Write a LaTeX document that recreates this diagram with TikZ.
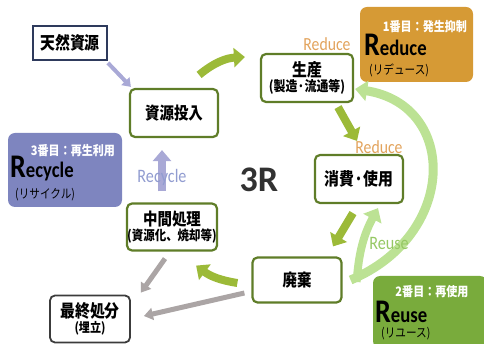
\documentclass[tikz,border=0pt]{standalone}
\usepackage{fontspec}
\setmainfont{Carlito}
\newfontfamily\jp[FakeStretch=0.85]{Noto Sans CJK JP}
\newfontfamily\cn[FakeStretch=0.85]{Carlito}
\usetikzlibrary{arrows.meta,calc}
\definecolor{gborder}{RGB}{95,125,40}
\definecolor{navy}{RGB}{46,58,92}
\definecolor{dgray}{RGB}{60,60,60}
\definecolor{garr}{RGB}{156,186,56}
\definecolor{lgarr}{RGB}{188,226,148}
\definecolor{lav}{RGB}{169,169,214}
\definecolor{grayarr}{RGB}{171,165,165}
\definecolor{redfill}{RGB}{214,154,53}
\definecolor{recfill}{RGB}{126,133,191}
\definecolor{reufill}{RGB}{121,171,60}
\definecolor{redtxt}{RGB}{226,163,92}
\definecolor{rectxt}{RGB}{145,156,208}
\definecolor{reutxt}{RGB}{150,200,100}
\newcommand\setfs[1]{\fontsize{#1}{#1}\selectfont}
\tikzset{
  gbox/.style={draw=gborder, line width=2.2pt, rounded corners=5pt, fill=white, align=center, inner sep=0pt},
  cbox/.style={rounded corners=7pt, inner sep=0pt},
  garrow/.style={draw=garr, line width=8pt, -{Triangle[length=11pt,width=19pt]}},
  lgarrow/.style={draw=lgarr, line width=8pt, -{Triangle[length=12pt,width=20pt]}},
  lavarrow/.style={draw=lav, line width=4pt, -{Triangle[length=8pt,width=11pt]}},
  grarrow/.style={draw=grayarr, line width=5pt, -{Triangle[length=9pt,width=12pt]}},
  wtitle/.style={text=white, font=\jp\bfseries\setfs{13}, inner sep=0pt},
  bigR/.style={anchor=base west, inner sep=0pt, text=black, font=\cn\bfseries},
  kana/.style={anchor=west, inner sep=0pt, font=\jp\setfs{12.5}},
}
\begin{document}
\begin{tikzpicture}[x=1pt,y=-1pt]
\useasboundingbox (0,0) rectangle (484,344);
% colored boxes
\node[cbox, fill=redfill, minimum width=113pt, minimum height=75pt] (redbox) at (416.5,44.5) {};
\node[cbox, fill=recfill, minimum width=114pt, minimum height=74pt] (recbox) at (65,170) {};
\node[cbox, fill=reufill, minimum width=114pt, minimum height=72pt] (reubox) at (430,312) {};
\node[wtitle] (redt) at (425,27) {1番目：発生抑制};
\node[bigR] (redR) at (364,56) {\setfs{33}R\setfs{22}educe};
\node[kana] (redk) at (369,70) {(リデュース)};
\node[wtitle] (rect) at (73,151) {3番目：再生利用};
\node[bigR] (recR) at (10,178) {\setfs{33}R\setfs{22}ecycle};
\node[kana] (reck) at (15,195) {(リサイクル)};
\node[wtitle] (reut) at (432,292) {2番目：再使用};
\node[bigR] (reuR) at (375,322) {\setfs{33}R\setfs{22}euse};
\node[kana] (reuk) at (381,334) {(リユース)};
% process nodes
\node[draw=navy, line width=1.8pt, fill=white, minimum width=74pt, minimum height=34pt, inner sep=0pt, font=\jp\bfseries\setfs{17.5}] (tennen) at (70,43) {天然資源};
\node[gbox, minimum width=88pt, minimum height=48pt, font=\jp\bfseries\setfs{17}] (shigen) at (174,113) {資源投入};
\node[gbox, minimum width=92pt, minimum height=48pt, font=\jp\bfseries] (seisan) at (307,78) {\setfs{17.5}生産\\[1pt]\setfs{14}(製造·流通等)};
\node[gbox, minimum width=88pt, minimum height=48pt, font=\jp\bfseries\setfs{17.5}] (shohi) at (359,179) {消費·使用};
\node[gbox, minimum width=89pt, minimum height=45pt, font=\jp\bfseries\setfs{17}] (haiki) at (297,280) {廃棄};
\node[gbox, minimum width=90pt, minimum height=47pt, font=\jp\bfseries] (chukan) at (172,227) {\setfs{17}中間処理\\[1pt]\setfs{13.5}(資源化、焼却等)};
\node[draw=dgray, line width=1.8pt, rounded corners=5pt, fill=white, minimum width=80pt, minimum height=47pt, inner sep=0pt, align=center, font=\jp\bfseries] (saishu) at (90,319) {\setfs{17.5}最終処分\\[1pt]\setfs{13}(埋立)};
\node[font=\bfseries\setfs{36}, text={rgb,255:red,50;green,50;blue,50}, inner sep=0pt] (threeR) at (259,180) {3R};
% arrows
\draw[lavarrow] ($(tennen.south east)+(0,2)$) -- ($(shigen.north west)+(2,-1)$);
\draw[garrow] ($(shigen.north east)+(-20,-13)$) to[bend left=18] ($(seisan.west)+(-15,-21)$);
\draw[garrow] ($(seisan.south)+(31,4)$) -- ($(shohi.north)+(-2,-13)$);
\draw[garrow] ($(shohi.south)+(-6,9)$) -- ($(haiki.north)+(36,-10)$);
\draw[lgarrow, line width=9pt] ($(haiki.east)+(8,0)$) .. controls (458,235) and (458,105) .. ($(seisan.east)+(1,11)$);
\draw[lgarrow] ($(haiki.east)+(14,2)$) to[bend left=12] ($(shohi.south)+(19,4)$);
\draw[garrow] ($(haiki.west)+(-14,3)$) to[bend left=14] ($(chukan.south east)+(-22,14)$);
\draw[grarrow] ($(chukan.south)+(-7,7)$) -- ($(saishu.north east)+(10,-2)$);
\draw[grarrow] ($(haiki.west)+(-7,13)$) -- ($(saishu.east)+(13,-3)$);
\draw[lav, line width=8pt, -{Triangle[length=11pt,width=18pt]}] ($(chukan.north)+(-10,-11)$) -- ($(shigen.south)+(-12,12)$);
% labels
\node[text=redtxt, font=\cn\setfs{18.5}, inner sep=0pt] (redl1) at (327,44) {Reduce};
\node[text=redtxt, font=\cn\setfs{18.5}, inner sep=0pt] (redl2) at (379,147) {Reduce};
\node[text=rectxt, font=\cn\setfs{19}, inner sep=0pt] (recl) at (162,177) {Recycle};
\node[text=reutxt, font=\cn\setfs{19}, inner sep=0pt] (reul) at (389,243) {Reuse};
\end{tikzpicture}
\end{document}
